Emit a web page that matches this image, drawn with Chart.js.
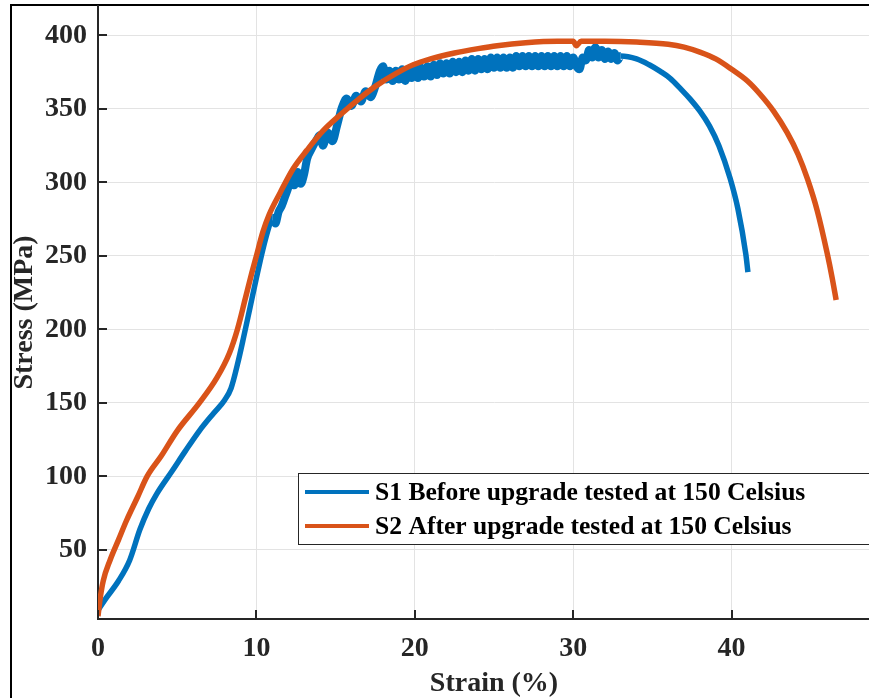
<!DOCTYPE html>
<html lang="en">
<head>
  <meta charset="UTF-8">
  <title>Stress - Strain</title>
  <script src="https://cdn.jsdelivr.net/npm/chart.js"></script>
  <style>
    html, body {
      margin: 0;
      padding: 0;
      background: #fff;
    }
    .frame {
      position: absolute;
      left: 0;
      top: 0;
      width: 869px;
      height: 698px;
      overflow: hidden;
    }
    .outline {
      position: absolute;
      left: 10px;
      top: 4px;
      width: 1000px;
      height: 1000px;
      border-left: 2px solid #000;
      border-top: 2px solid #000;
    }
    .holder {
      position: absolute;
      left: 0;
      top: 0;
    }
  </style>
</head>
<body>
  <div class="frame">
    <div class="outline"></div>
    <div class="holder"><canvas id="grafico" width="892" height="698"></canvas></div>
  </div>

  <script>
    // curva S1 (antes do upgrade)
    const s1Strain = [0, 0.5, 1.3, 2.0, 2.65, 3.2, 3.7, 4.7, 5.5, 6.4, 7.3, 8.0, 8.4, 8.8, 9.2, 9.6, 10.0, 10.4, 10.8, 11.0,
      11.2, 11.4, 11.6, 11.8, 12.0, 12.2, 12.4, 12.6, 12.8, 13.0, 13.2, 13.5, 13.8, 14.0, 14.2, 14.5, 14.8, 15.1, 15.4, 15.7,
      16.0, 16.3, 16.6, 16.9, 17.2, 17.5,
      17.8, 18.0, 18.2, 18.4, 18.6, 18.8, 19.0, 19.2, 19.4, 19.6, 19.8, 20.0, 20.2, 20.4, 20.6, 20.8, 21.0, 21.2, 21.4, 21.6,
      21.8, 22.0, 22.2, 22.4, 22.6, 22.8, 23.0, 23.2, 23.4, 23.6, 23.8, 24.0, 24.2, 24.4, 24.6, 24.8, 25.0, 25.2, 25.4, 25.6,
      25.8, 26.0, 26.2, 26.4, 26.6, 26.8, 27.0, 27.2, 27.4, 27.6, 27.8, 28.0, 28.2, 28.4, 28.6, 28.8, 29.0, 29.2, 29.4, 29.6,
      29.8, 30.0, 30.2, 30.4, 30.6, 30.8, 31.0, 31.2, 31.4, 31.6, 31.8, 32.0, 32.2, 32.4, 32.6, 32.8, 33.0,
      34.0, 34.8, 35.5, 36.1, 36.8, 37.4, 38.0, 38.6, 39.2, 39.9, 40.4, 40.9, 41.03];
    const s1Stress = [9, 17, 29, 43, 64, 78, 88, 104, 117, 131, 143, 152, 160, 176, 195, 215, 235, 254, 270, 276,
      272, 280, 284, 290, 296, 304, 298, 307, 299, 305, 316, 323, 329, 332, 325, 334, 328, 339, 351, 357,
      352, 359, 355, 362, 358, 365,
      376, 379, 370, 376, 369, 376, 370, 377, 369, 377, 371, 378, 371, 378, 372, 379, 372, 380, 373, 381,
      374, 381, 374, 382, 375, 382, 375, 383, 376, 384, 376, 384, 377, 384, 377, 385, 378, 385, 378, 385,
      378, 385, 378, 386, 379, 386, 379, 386, 379, 386, 379, 386, 379, 386, 379, 386, 379, 386, 379, 386,
      379, 385, 379, 377, 385, 383, 390, 385, 392, 385, 390, 384, 389, 384, 388, 383, 386,
      384, 380, 375.5, 371, 363.5, 356.5, 348.5, 338.5, 325, 303, 282, 251, 239];

    // curva S2 (depois do upgrade)
    const s2Strain = [0, 0.15, 0.33, 0.76, 1.3, 1.8, 2.5, 3.1, 4.0, 5.0, 6.4, 7.5, 8.3, 8.8, 9.3, 9.7, 10.0, 10.4, 10.8, 11.5,
      12.3, 13.2, 14.2, 15.3, 16.5, 17.6, 18.8, 19.9, 21.0, 22.5, 24.0, 25.2, 27.0, 29.0, 30.0, 30.2, 30.5, 32.0, 34.0, 36.0,
      37.0, 38.0, 39.0, 40.0, 41.0, 41.8, 42.65, 43.5, 44.2, 44.8, 45.4, 46.05, 46.35, 46.6];
    const s2Stress = [5, 18, 29, 43, 57, 70, 86, 100, 114, 131, 150, 167, 184, 200, 221, 238, 250, 266, 278, 293,
      309, 322, 335, 346, 357, 366, 374, 380, 384, 388, 391, 393, 395, 396, 396, 393, 396, 396, 395.5, 394,
      392, 388.6, 384, 377, 369, 360, 348.5, 334, 319, 302, 281, 251, 235, 220];

    const seriesLabels = ['S1 Before upgrade tested at 150 Celsius', 'S2 After upgrade tested at 150 Celsius'];
    const seriesColors = ['#0072BD', '#D95319'];
    const xTicks = [0, 10, 20, 30, 40];
    const yTicks = [50, 100, 150, 200, 250, 300, 350, 400];

    const fonte = "'Liberation Serif', 'Times New Roman', serif";
    const corEixo = '#262626';

    // ticks do MATLAB ficam para dentro
    const ticksDentro = {
      id: 'ticksDentro',
      afterDraw(chart) {
        const { ctx, chartArea, scales } = chart;
        ctx.save();
        ctx.strokeStyle = corEixo;
        ctx.lineWidth = 2;
        scales.x.ticks.forEach(t => {
          const px = Math.round(scales.x.getPixelForValue(t.value));
          ctx.beginPath();
          ctx.moveTo(px, chartArea.bottom);
          ctx.lineTo(px, chartArea.bottom - 9);
          ctx.stroke();
        });
        scales.y.ticks.forEach(t => {
          const py = Math.round(scales.y.getPixelForValue(t.value));
          ctx.beginPath();
          ctx.moveTo(chartArea.left, py);
          ctx.lineTo(chartArea.left + 9, py);
          ctx.stroke();
        });
        ctx.restore();
      }
    };

    // legenda dentro do gráfico
    const legendaCaixa = {
      id: 'legendaCaixa',
      afterDraw(chart) {
        const ctx = chart.ctx;
        const x0 = 298.5, y0 = 473.5, w = 600, h = 71;
        ctx.save();
        ctx.fillStyle = '#fff';
        ctx.fillRect(x0, y0, w, h);
        ctx.strokeStyle = corEixo;
        ctx.lineWidth = 1;
        ctx.strokeRect(x0, y0, w, h);
        ctx.font = 'bold 25.6px ' + fonte;
        ctx.textBaseline = 'middle';
        chart.data.datasets.forEach((ds, i) => {
          const ly = 492 + i * 34;
          ctx.strokeStyle = ds.borderColor;
          ctx.lineWidth = 4;
          ctx.beginPath();
          ctx.moveTo(305, ly);
          ctx.lineTo(369, ly);
          ctx.stroke();
          ctx.fillStyle = '#000';
          ctx.fillText(ds.label, 375, ly + 1);
        });
        ctx.restore();
      }
    };

    const semPadding = s => { s.paddingTop = 0; s.paddingBottom = 0; };

    new Chart(grafico, {
      type: 'line',
      data: {
        datasets: [
          {
            label: seriesLabels[0],
            data: s1Strain.map((v, i) => ({ x: v, y: s1Stress[i] })),
            borderColor: seriesColors[0],
            borderWidth: 5.5,
            cubicInterpolationMode: 'monotone',
            order: 2,
            segment: {
              // faixa ruidosa mais grossa
              borderWidth: c => (c.p0.parsed.x >= 11 && c.p1.parsed.x <= 33.1) ? 8 : 5.5
            }
          },
          {
            label: seriesLabels[1],
            data: s2Strain.map((v, i) => ({ x: v, y: s2Stress[i] })),
            borderColor: seriesColors[1],
            borderWidth: 5.5,
            cubicInterpolationMode: 'monotone',
            order: 1
          }
        ]
      },
      options: {
        responsive: false,
        animation: false,
        layout: { padding: { top: 6, right: 2, left: 0, bottom: 0 } },
        elements: {
          point: { radius: 0 },
          line: { borderJoinStyle: 'round', borderCapStyle: 'butt' }
        },
        plugins: {
          legend: { display: false },
          tooltip: { enabled: false }
        },
        scales: {
          x: {
            type: 'linear',
            min: 0,
            max: 50,
            afterBuildTicks: s => { s.ticks = xTicks.map(v => ({ value: v })); },
            afterFit: s => { s.height = 79; s.paddingLeft = 0; s.paddingRight = 0; },
            ticks: {
              font: { family: fonte, size: 28, weight: 'bold' },
              color: corEixo,
              padding: 13
            },
            grid: { color: '#e3e3e3', lineWidth: 1, drawTicks: false },
            border: { color: corEixo, width: 2 },
            title: {
              display: true,
              text: 'Strain (%)',
              font: { family: fonte, size: 28, weight: 'bold', lineHeight: 1 },
              color: corEixo,
              padding: { top: 0, bottom: 0 }
            }
          },
          y: {
            min: 3,
            max: 420,
            afterBuildTicks: s => { s.ticks = yTicks.map(v => ({ value: v })); },
            afterFit: s => { s.width = 98; semPadding(s); },
            ticks: {
              font: { family: fonte, size: 28, weight: 'bold' },
              color: corEixo,
              padding: 11
            },
            grid: { color: '#e3e3e3', lineWidth: 1, drawTicks: false },
            border: { color: corEixo, width: 2 },
            title: {
              display: true,
              text: 'Stress (MPa)',
              font: { family: fonte, size: 28, weight: 'bold' },
              color: corEixo,
              padding: { top: 8, bottom: 0 }
            }
          }
        }
      },
      plugins: [ticksDentro, legendaCaixa]
    });
  </script>
</body>
</html>
